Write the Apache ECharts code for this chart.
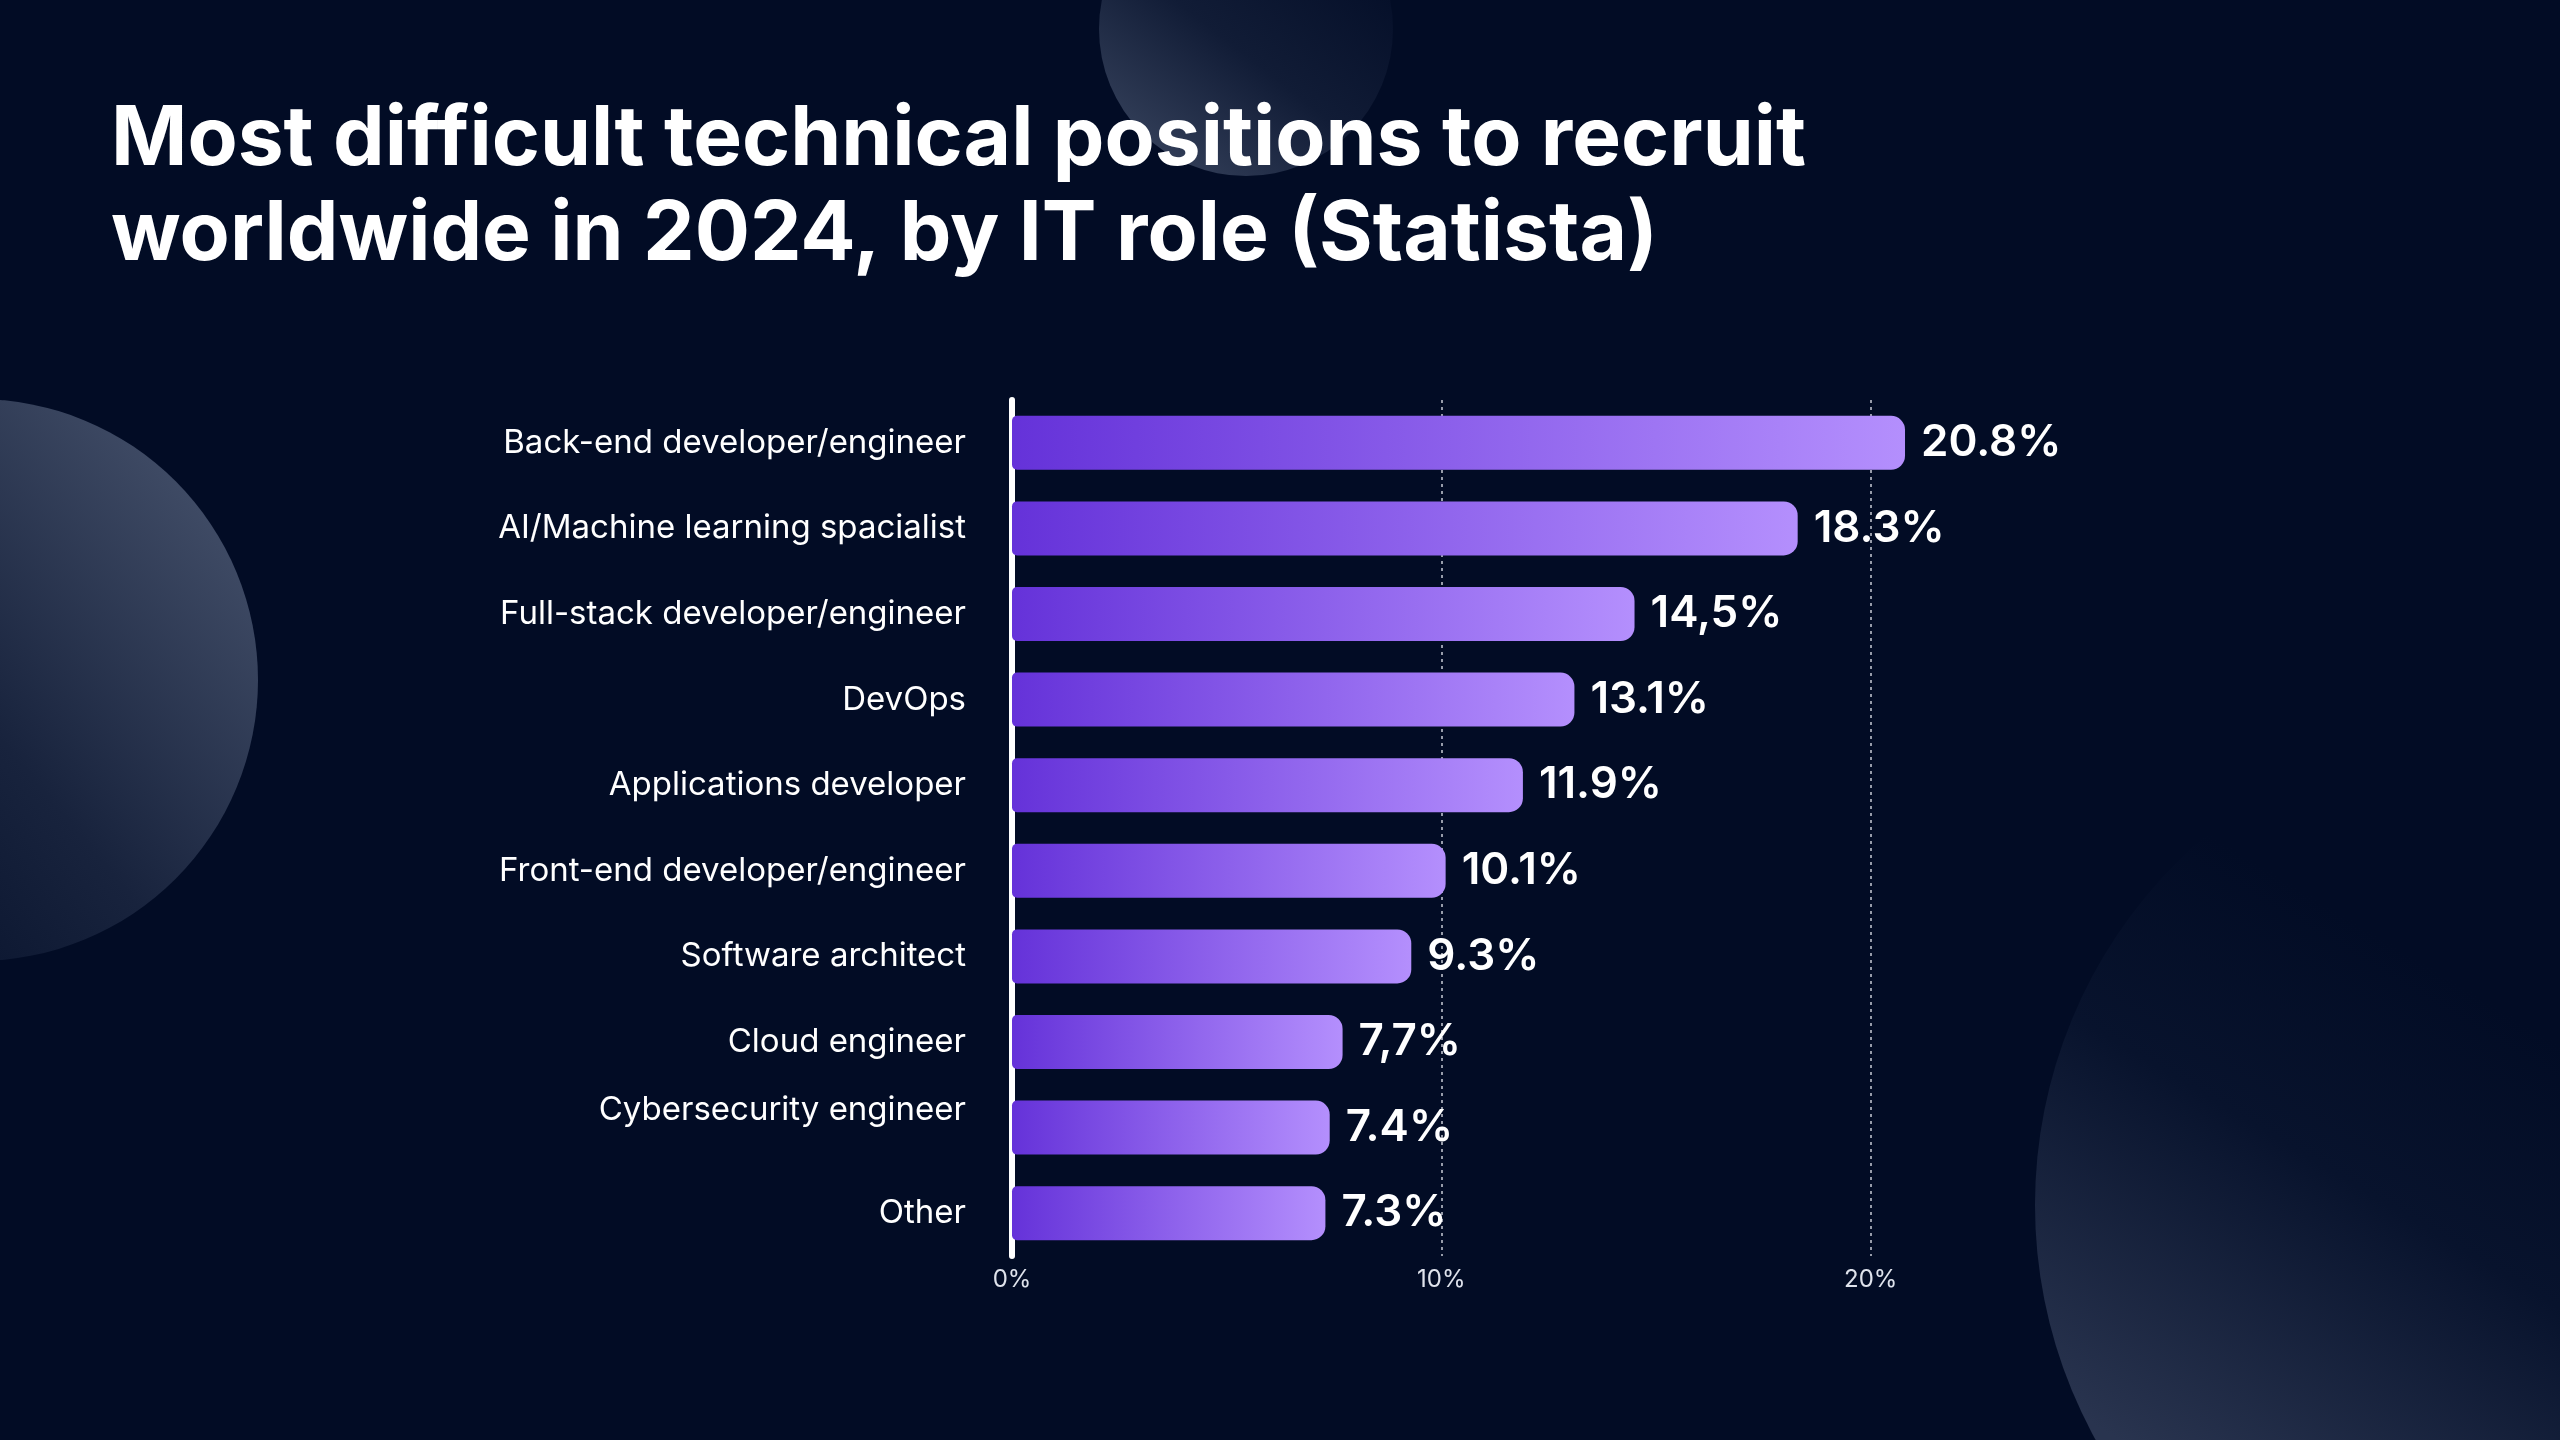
<!DOCTYPE html>
<html>
<head>
<meta charset="utf-8">
<script src="https://cdn.jsdelivr.net/npm/echarts@6/dist/echarts.min.js"></script>
<style>
html,body{margin:0;padding:0;background:#020c25;}
#chart{width:2560px;height:1440px;}
</style>
</head>
<body>
<div id="chart"></div>
<script>
const titleText = 'Most difficult technical positions to recruit\nworldwide in 2024, by IT role (Statista)';
const categories = [
  'Back-end developer/engineer',
  'AI/Machine learning spacialist',
  'Full-stack developer/engineer',
  'DevOps',
  'Applications developer',
  'Front-end developer/engineer',
  'Software architect',
  'Cloud engineer',
  'Cybersecurity engineer',
  'Other'
];
const values = [20.8, 18.3, 14.5, 13.1, 11.9, 10.1, 9.3, 7.7, 7.4, 7.3];
const valueLabels = ['20.8%', '18.3%', '14,5%', '13.1%', '11.9%', '10.1%', '9.3%', '7,7%', '7.4%', '7.3%'];
const tickValues = [0, 10, 20];
const raisedLabel = 'Cybersecurity engineer';

const FONT = 'Inter, "Noto Sans", sans-serif';
const chart = echarts.init(document.getElementById('chart'));

chart.setOption({
  backgroundColor: '#020c25',
  animation: false,
  graphic: [
    { type: 'circle', z: -10, shape: { cx: -23, cy: 680, r: 281 },
      style: { fill: new echarts.graphic.LinearGradient(1, 0.15, 0.1, 0.9, [
        { offset: 0, color: '#46526c' }, { offset: 0.55, color: '#18233d' }, { offset: 1, color: '#030e28' }]) } },
    { type: 'circle', z: -10, shape: { cx: 1246, cy: 29, r: 147 },
      style: { fill: new echarts.graphic.LinearGradient(0.1, 1, 0.8, 0.1, [
        { offset: 0, color: '#3a4660' }, { offset: 0.5, color: '#111c36' }, { offset: 1, color: '#030d27' }]) } },
    { type: 'circle', z: -10, shape: { cx: 2520, cy: 1205, r: 485 },
      style: { fill: new echarts.graphic.LinearGradient(0.1, 0.75, 0.4, 0.25, [
        { offset: 0, color: '#29344f' }, { offset: 0.6, color: '#08132d' }, { offset: 1, color: '#020c25' }]) } }
  ],
  title: {
    text: titleText,
    left: 106,
    top: 88,
    textStyle: {
      color: '#ffffff',
      fontFamily: FONT,
      fontWeight: 700,
      fontSize: 82,
      lineHeight: 95
    }
  },
  grid: { left: 1012, right: 260, top: 400, bottom: 184, containLabel: false },
  xAxis: {
    type: 'value',
    min: 0,
    max: 30,
    interval: 10,
    axisLine: { show: false },
    axisTick: { show: false },
    axisLabel: {
      color: '#dfe3ec',
      fontFamily: FONT,
      fontSize: 24,
      margin: 12,
      formatter: v => tickValues.indexOf(v) >= 0 ? v + '%' : ''
    },
    splitLine: {
      show: true,
      showMinLine: false,
      showMaxLine: false,
      lineStyle: { color: '#c9ccd6', type: [3, 4], width: 1.5 }
    }
  },
  yAxis: {
    type: 'category',
    data: categories,
    inverse: true,
    offset: 6,
    axisLine: { show: true, lineStyle: { color: '#ffffff', width: 6, cap: 'round' } },
    axisTick: { show: false },
    axisLabel: {
      color: '#ffffff',
      fontFamily: FONT,
      fontSize: 33,
      margin: 40,
      formatter: v => v === raisedLabel ? '{up|' + v + '}' : v,
      rich: {
        up: {
          color: '#ffffff',
          fontFamily: FONT,
          fontSize: 33,
          padding: [0, 0, 36, 0]
        }
      }
    },
    splitLine: { show: false }
  },
  series: [{
    type: 'bar',
    data: values,
    barWidth: 54,
    itemStyle: {
      borderRadius: [5, 14, 14, 5],
      color: new echarts.graphic.LinearGradient(0, 0, 1, 0, [
        { offset: 0, color: '#6532d9' },
        { offset: 1, color: '#b48ffd' }
      ])
    },
    label: {
      show: true,
      position: 'right',
      distance: 16,
      color: '#ffffff',
      fontFamily: FONT,
      fontWeight: 600,
      fontSize: 44,
      formatter: p => valueLabels[p.dataIndex]
    }
  }]
});
</script>
</body>
</html>
